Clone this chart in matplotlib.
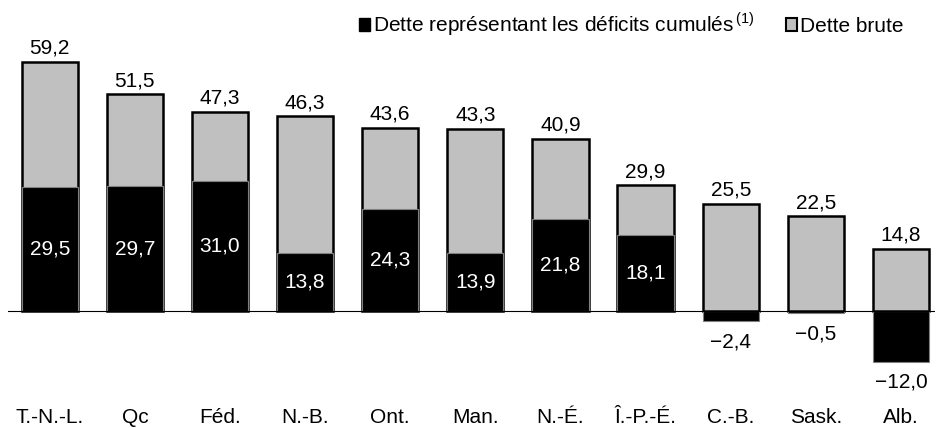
import matplotlib
matplotlib.use("Agg")
import matplotlib.pyplot as plt
from matplotlib.patches import Patch

plt.rcParams["font.family"] = ["Liberation Sans", "DejaVu Sans"]
plt.rcParams["mathtext.fontset"] = "custom"
plt.rcParams["mathtext.rm"] = "Liberation Sans"
plt.rcParams["axes.unicode_minus"] = True

provinces = ["T.-N.-L.", "Qc", "Féd.", "N.-B.", "Ont.", "Man.", "N.-É.",
             "Î.-P.-É.", "C.-B.", "Sask.", "Alb."]
dette_brute = [59.2, 51.5, 47.3, 46.3, 43.6, 43.3, 40.9, 29.9, 25.5, 22.5, 14.8]
deficits_cumules = [29.5, 29.7, 31.0, 13.8, 24.3, 13.9, 21.8, 18.1, -2.4, -0.5, -12.0]

GRAY = "#c0c0c0"
FS = 15


def fr(v):
    s = f"{abs(v):.1f}".replace(".", ",")
    return ("\u2212" + s) if v < 0 else s


fig = plt.figure(figsize=(9.37, 4.28), dpi=100)
ax = fig.add_axes([8 / 937, 0.116, 927 / 937, 0.7666])

x = list(range(len(provinces)))
width = 0.66
ax.bar(x, dette_brute, width, color=GRAY, edgecolor="black", linewidth=1.8, zorder=2)
ax.bar(x, deficits_cumules, width, color="black", edgecolor="#808080", linewidth=0.8, zorder=3)
ax.axhline(0, color="black", linewidth=0.8, zorder=4)

for xi, tot, dc in zip(x, dette_brute, deficits_cumules):
    ax.annotate(fr(tot), (xi, tot), xytext=(0, 3), textcoords="offset points",
                ha="center", va="bottom", fontsize=FS)
    if dc >= 0:
        ax.text(xi, dc / 2, fr(dc), ha="center", va="center", fontsize=FS,
                color="white", zorder=5)
    else:
        ax.annotate(fr(dc), (xi, dc), xytext=(0, -8), textcoords="offset points",
                    ha="center", va="top", fontsize=FS, annotation_clip=False)

ax.set_xlim(-0.49, 10.4)
ax.set_ylim(-16, 62)
ax.set_xticks(x)
ax.set_xticklabels(provinces, fontsize=FS)
ax.tick_params(axis="x", length=0, pad=21)
ax.set_yticks([])
for sp in ax.spines.values():
    sp.set_visible(False)

handles = [Patch(facecolor="black", edgecolor="black", linewidth=1),
           Patch(facecolor=GRAY, edgecolor="black", linewidth=1.5)]
labels = ["Dette représentant les déficits cumulés$^{\\,(1)}$", "Dette brute"]
fig.legend(handles, labels, loc="upper right", bbox_to_anchor=(0.978, 1.005),
           ncol=2, frameon=False, fontsize=FS, handlelength=0.55, handleheight=0.55,
           handletextpad=0.15, columnspacing=1.5, borderaxespad=0.2)

fig.savefig("out.png", dpi=100)
